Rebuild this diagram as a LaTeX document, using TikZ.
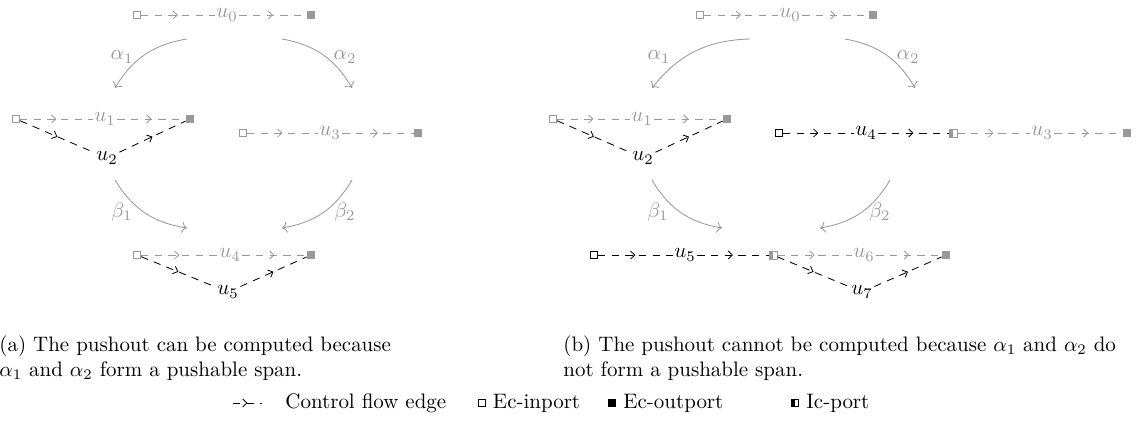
\documentclass[tikz,border=0pt]{standalone}
\usepackage{amsmath,amssymb}
\usetikzlibrary{
	arrows.meta,
	positioning,
	decorations.markings
}

\colorlet{fade}{black!40}

\begin{document}
\begin{tikzpicture}[
				x=0.477pt, y=-0.477pt,
				inport/.style={
					rectangle, draw, fill=white,
					minimum size=3.5pt, inner sep=0pt
				},
				fadeport/.style={
					inport, draw=fade
				},
				outport/.style={
					rectangle, fill=fade,
					minimum size=3.8pt, inner sep=0pt
				},
				icport/.style={
					rectangle, draw=fade, fill=white,
					minimum size=3.8pt, inner sep=0pt,
					path picture={\fill[#1] (path picture bounding box.south west) rectangle (path picture bounding box.north);}
				},
				icport/.default=fade,
				unit/.style={inner sep=0.6pt},
				fadeunit/.style={unit, text=fade},
				flow/.style={
					dash pattern=on 3.5pt off 3pt, postaction={decorate},
					decoration={markings, mark=at position 0.5 with {\arrow{Straight Barb[length=2pt,width=3.8pt]}}}
				},
				morph/.style={->, fade},
				]
				\useasboundingbox (0,0) rectangle (1142,423);
				
				%(a) span
				\node (ain0) at (137,15) [fadeport] {};
				\node (au0) at (227,15) [fadeunit] {$u_0$};
				\node (aout0) at (311,15) [outport] {};
				\draw [flow, fade] (ain0) -- (au0);
				\draw [flow, fade] (au0) -- (aout0);
				
				\node (ain1) at (16,119) [fadeport] {};
				\node (au1) at (105,119) [fadeunit] {$u_1$};
				\node (aout1) at (190,119) [outport] {};
				\draw [flow, fade] (ain1) -- (au1);
				\draw [flow, fade] (au1) -- (aout1);
				
				\node (au2) at (107,158) [unit] {$u_2$};
				\draw [flow] (ain1) -- (au2);
				\draw [flow] (au2) -- (aout1);
				
				\node (ain3) at (243,133) [fadeport] {};
				\node (au3) at (330,133) [fadeunit] {$u_3$};
				\node (aout3) at (418,133) [outport] {};
				\draw [flow, fade] (ain3) -- (au3);
				\draw [flow, fade] (au3) -- (aout3);
				
				%(a) pushout
				\node (ain4) at (137,255) [fadeport] {};
				\node (au4) at (230,255) [fadeunit] {$u_4$};
				\node (aout4) at (311,255) [outport] {};
				\draw [flow, fade] (ain4) -- (au4);
				\draw [flow, fade] (au4) -- (aout4);
				
				\node (au5) at (228,292) [unit] {$u_5$};
				\draw [flow] (ain4) -- (au5);
				\draw [flow] (au5) -- (aout4);
				
				%(a) morphisms
				\coordinate (aa1s) at (187,39);
				\coordinate (aa1e) at (115,88);
				\coordinate (aa2s) at (282,39);
				\coordinate (aa2e) at (352,88);
				\coordinate (ab1s) at (115,180);
				\coordinate (ab1e) at (187,228);
				\coordinate (ab2s) at (352,180);
				\coordinate (ab2e) at (282,228);
				\draw [morph] (aa1s) to[bend right=25] (aa1e);
				\draw [morph] (aa2s) to[bend left=25] (aa2e);
				\draw [morph] (ab1s) to[bend right=25] (ab1e);
				\draw [morph] (ab2s) to[bend left=25] (ab2e);
				\node (aal1) at (122,57) [fade] {$\alpha_1$};
				\node (aal2) at (345,57) [fade] {$\alpha_2$};
				\node (abl1) at (122,212) [fade] {$\beta_1$};
				\node (abl2) at (345,212) [fade] {$\beta_2$};
				
				%(b) span
				\node (bin0) at (700,15) [fadeport] {};
				\node (bu0) at (790,15) [fadeunit] {$u_0$};
				\node (bout0) at (873,15) [outport] {};
				\draw [flow, fade] (bin0) -- (bu0);
				\draw [flow, fade] (bu0) -- (bout0);
				
				\node (bin1) at (553,119) [fadeport] {};
				\node (bu1) at (642,119) [fadeunit] {$u_1$};
				\node (bout1) at (727,119) [outport] {};
				\draw [flow, fade] (bin1) -- (bu1);
				\draw [flow, fade] (bu1) -- (bout1);
				
				\node (bu2) at (643,158) [unit] {$u_2$};
				\draw [flow] (bin1) -- (bu2);
				\draw [flow] (bu2) -- (bout1);
				
				\node (bin4) at (779,133) [inport] {};
				\node (bu4) at (866,133) [unit] {$u_4$};
				\node (bic4) at (953,133) [icport] {};
				\node (bu3) at (1042,133) [fadeunit] {$u_3$};
				\node (bout3) at (1127,133) [outport] {};
				\draw [flow] (bin4) -- (bu4);
				\draw [flow] (bu4) -- (bic4);
				\draw [flow, fade] (bic4) -- (bu3);
				\draw [flow, fade] (bu3) -- (bout3);
				
				%(b) pushout
				\node (bin5) at (594,255) [inport] {};
				\node (bu5) at (685,255) [unit] {$u_5$};
				\node (bic5) at (773,255) [icport] {};
				\node (bu6) at (864,255) [fadeunit] {$u_6$};
				\node (bout6) at (946,255) [outport] {};
				\draw [flow] (bin5) -- (bu5);
				\draw [flow] (bu5) -- (bic5);
				\draw [flow, fade] (bic5) -- (bu6);
				\draw [flow, fade] (bu6) -- (bout6);
				
				\node (bu7) at (862,292) [unit] {$u_7$};
				\draw [flow] (bic5) -- (bu7);
				\draw [flow] (bu7) -- (bout6);
				
				%(b) morphisms
				\coordinate (ba1s) at (750,39);
				\coordinate (ba1e) at (652,88);
				\coordinate (ba2s) at (845,39);
				\coordinate (ba2e) at (915,88);
				\coordinate (bb1s) at (652,180);
				\coordinate (bb1e) at (722,228);
				\coordinate (bb2s) at (890,180);
				\coordinate (bb2e) at (820,228);
				\draw [morph] (ba1s) to[bend right=25] (ba1e);
				\draw [morph] (ba2s) to[bend left=25] (ba2e);
				\draw [morph] (bb1s) to[bend right=25] (bb1e);
				\draw [morph] (bb2s) to[bend left=25] (bb2e);
				\node (bal1) at (659,57) [fade] {$\alpha_1$};
				\node (bal2) at (908,57) [fade] {$\alpha_2$};
				\node (bbl1) at (658,212) [fade] {$\beta_1$};
				\node (bbl2) at (880,212) [fade] {$\beta_2$};
				
				%captions
				\node (capa) at (-1,335) [anchor=north west, inner sep=0pt, align=left]
					{(a) The pushout can be computed because\\$\alpha_1$ and $\alpha_2$ form a pushable span.};
				\node (capb) at (563,335) [anchor=north west, inner sep=0pt, align=left]
					{(b) The pushout cannot be computed because $\alpha_1$ and $\alpha_2$ do\\not form a pushable span.};
				
				%legend
				\coordinate (lgs) at (233,403);
				\coordinate (lge) at (262,403);
				\draw [flow] (lgs) -- (lge);
				\node (lgflow) at (285,403) [anchor=west, inner sep=0pt] {Control flow edge};
				\node (lgin) at (482,403) [inport, minimum size=3pt] {};
				\node (lgintxt) [right=0pt of lgin] {Ec-inport};
				\node (lgout) at (612,403) [outport, fill=black, minimum size=3.4pt] {};
				\node (lgouttxt) [right=0pt of lgout] {Ec-outport};
				\node (lgic) at (795,403) [icport=black, draw=black, minimum size=3.4pt] {};
				\node (lgictxt) [right=0pt of lgic] {Ic-port};
			\end{tikzpicture}
\end{document}
